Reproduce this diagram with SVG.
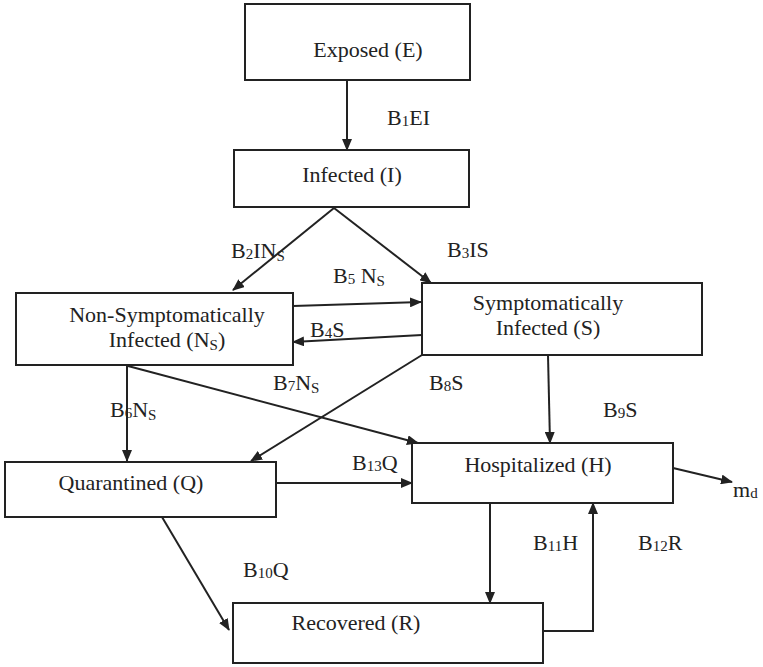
<svg xmlns="http://www.w3.org/2000/svg" width="763" height="667" viewBox="0 0 763 667">
<style>
.box{fill:#fff;stroke:#222;stroke-width:2}
.t{font-family:"Liberation Serif","Times New Roman",serif;font-size:22px;fill:#222}
.lbl{font-family:"Liberation Serif","Times New Roman",serif;font-size:22px;fill:#222}
.sub{font-size:15px}
.c{fill:none;stroke:#222;stroke-width:2}
</style>
<defs>
<marker id="ah" viewBox="0 0 12 10" refX="11" refY="5" markerWidth="12" markerHeight="10" markerUnits="userSpaceOnUse" orient="auto">
<path d="M0,0 L12,5 L0,10 z" fill="#222"/>
</marker>
</defs>
<rect width="763" height="667" fill="#fff"/>
<g id="connectors">
<line class="c" x1="347" y1="80" x2="347" y2="150" marker-end="url(#ah)"/>
<line class="c" x1="334" y1="208" x2="233" y2="290" marker-end="url(#ah)"/>
<line class="c" x1="334" y1="208" x2="431" y2="283" marker-end="url(#ah)"/>
<line class="c" x1="293" y1="306" x2="421" y2="302" marker-end="url(#ah)"/>
<line class="c" x1="422" y1="335" x2="293" y2="342" marker-end="url(#ah)"/>
<line class="c" x1="127" y1="365" x2="127" y2="461" marker-end="url(#ah)"/>
<line class="c" x1="128" y1="366" x2="418" y2="443" marker-end="url(#ah)"/>
<line class="c" x1="422" y1="355" x2="251" y2="461" marker-end="url(#ah)"/>
<line class="c" x1="548" y1="355" x2="550" y2="443" marker-end="url(#ah)"/>
<line class="c" x1="276" y1="483" x2="412" y2="483" marker-end="url(#ah)"/>
<line class="c" x1="162" y1="517" x2="229" y2="630" marker-end="url(#ah)"/>
<line class="c" x1="490" y1="503" x2="490" y2="603" marker-end="url(#ah)"/>
<polyline class="c" points="543,631 593,631 593,503" marker-end="url(#ah)"/>
<line class="c" x1="673" y1="468" x2="732" y2="482" marker-end="url(#ah)"/>
</g>
<g id="node-E"><rect class="box" x="245" y="4" width="225" height="76"/><text class="t" x="368" y="57" text-anchor="middle">Exposed (E)</text></g>
<g id="node-I"><rect class="box" x="234" y="150" width="235" height="57"/><text class="t" x="352" y="182" text-anchor="middle">Infected (I)</text></g>
<g id="node-NS"><rect class="box" x="16" y="293" width="277" height="72"/><text class="t" x="167" y="322" text-anchor="middle">Non-Symptomatically</text><text class="t" x="167" y="347" text-anchor="middle">Infected (N<tspan class="sub" dy="3">S</tspan><tspan dy="-3">)</tspan></text></g>
<g id="node-S"><rect class="box" x="422" y="283" width="280" height="72"/><text class="t" x="548" y="310" text-anchor="middle">Symptomatically</text><text class="t" x="548" y="335" text-anchor="middle">Infected (S)</text></g>
<g id="node-Q"><rect class="box" x="5" y="462" width="271" height="55"/><text class="t" x="131" y="490" text-anchor="middle">Quarantined (Q)</text></g>
<g id="node-H"><rect class="box" x="412" y="443" width="261" height="60"/><text class="t" x="538" y="472" text-anchor="middle">Hospitalized (H)</text></g>
<g id="node-R"><rect class="box" x="233" y="603" width="310" height="60"/><text class="t" x="356" y="630" text-anchor="middle">Recovered (R)</text></g>
<g id="labels">
<text class="lbl" x="387" y="125">B<tspan class="sub" dy="1">1</tspan><tspan dy="-1">EI</tspan></text>
<text class="lbl" x="231" y="258">B<tspan class="sub" dy="1">2</tspan><tspan dy="-1">IN</tspan><tspan class="sub" dy="3">S</tspan></text>
<text class="lbl" x="447" y="257">B<tspan class="sub" dy="1">3</tspan><tspan dy="-1">IS</tspan></text>
<text class="lbl" x="333" y="283">B<tspan class="sub" dy="1">5</tspan><tspan dy="-1"> N</tspan><tspan class="sub" dy="3">S</tspan></text>
<text class="lbl" x="310" y="337">B<tspan class="sub" dy="1">4</tspan><tspan dy="-1">S</tspan></text>
<text class="lbl" x="273" y="390">B<tspan class="sub" dy="1">7</tspan><tspan dy="-1">N</tspan><tspan class="sub" dy="3">S</tspan></text>
<text class="lbl" x="429" y="390">B<tspan class="sub" dy="1">8</tspan><tspan dy="-1">S</tspan></text>
<text class="lbl" x="110" y="417">B<tspan class="sub" dy="1">6</tspan><tspan dy="-1">N</tspan><tspan class="sub" dy="3">S</tspan></text>
<text class="lbl" x="603" y="417">B<tspan class="sub" dy="1">9</tspan><tspan dy="-1">S</tspan></text>
<text class="lbl" x="352" y="470">B<tspan class="sub" dy="1">13</tspan><tspan dy="-1">Q</tspan></text>
<text class="lbl" x="243" y="577">B<tspan class="sub" dy="1">10</tspan><tspan dy="-1">Q</tspan></text>
<text class="lbl" x="533" y="550">B<tspan class="sub" dy="1">11</tspan><tspan dy="-1">H</tspan></text>
<text class="lbl" x="638" y="550">B<tspan class="sub" dy="1">12</tspan><tspan dy="-1">R</tspan></text>
<text class="lbl" x="733" y="497">m<tspan class="sub" dy="1">d</tspan></text>
</g>
</svg>
